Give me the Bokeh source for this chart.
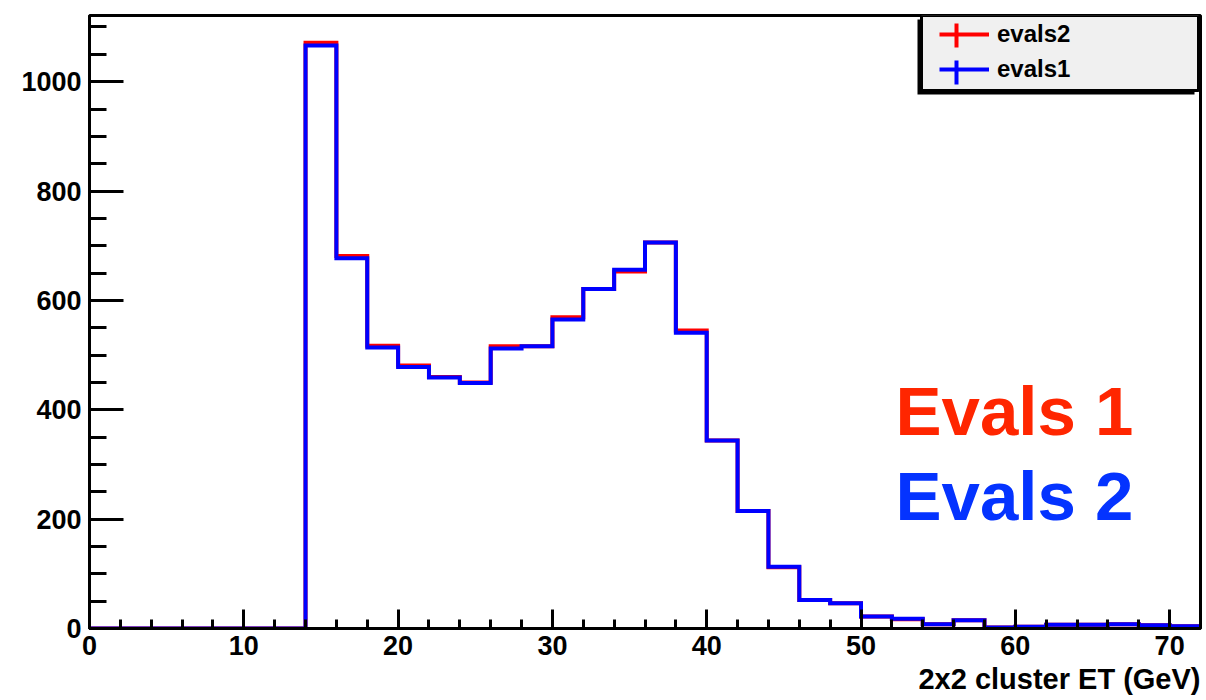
from bokeh.plotting import figure
from bokeh.models import FixedTicker, Legend, LegendItem, Label, Range1d, Title
from bokeh.embed import file_html
from bokeh.resources import INLINE

# ---------------- data ----------------
bin_edges = [0, 2, 4, 6, 8, 10, 12, 14, 16, 18, 20, 22, 24, 26, 28, 30, 32, 34, 36,
             38, 40, 42, 44, 46, 48, 50, 52, 54, 56, 58, 60, 62, 64, 66, 68, 70, 72]
evals1 = [0, 0, 0, 0, 0, 0, 0, 1066, 677, 514, 478, 459, 449, 512, 516, 565, 621, 656,
          706, 541, 344, 215, 113, 52, 46, 22, 18, 8, 15, 2, 3, 7, 7, 8, 6, 4]
evals2 = [0, 0, 0, 0, 0, 0, 0, 1071, 681, 517, 481, 460, 450, 516, 516, 569, 621, 653,
          706, 545, 344, 215, 112, 52, 46, 22, 17, 8, 15, 2, 3, 7, 7, 8, 6, 4]
series_labels = ["evals2", "evals1"]
series_colors = ["#ff0000", "#0000ff"]
x_major = [0, 10, 20, 30, 40, 50, 60, 70]
x_minor = [0, 2, 4, 6, 8, 10, 12, 14, 16, 18, 20, 22, 24, 26, 28, 30, 32, 34, 36,
           38, 40, 42, 44, 46, 48, 50, 52, 54, 56, 58, 60, 62, 64, 66, 68, 70, 72]
y_major = [0, 200, 400, 600, 800, 1000]
y_minor = [0, 50, 100, 150, 200, 250, 300, 350, 400, 450, 500, 550, 600, 650, 700,
           750, 800, 850, 900, 950, 1000, 1050, 1100]
x_title = "2x2 cluster ET (GeV)"
note1, note2 = "Evals 1", "Evals 2"

# ---------------- layout ----------------
W, H = 1202, 700
BL, BR, BT, BB = 89, 2, 15, 72
X0, X1 = 0, 72
Y0, Y1 = 0, 1121
FW = W - BL - BR
FH = H - BT - BB
FONT = "Liberation Sans"


def xd(px):
    return X0 + (px - BL) / FW * (X1 - X0)


def yd(py):
    return Y0 + (BT + FH - py) / FH * (Y1 - Y0)


p = figure(width=W, height=H, x_range=Range1d(X0, X1), y_range=Range1d(Y0, Y1),
           output_backend="svg", toolbar_location=None,
           min_border_left=BL, min_border_right=BR, min_border_top=BT, min_border_bottom=BB)
p.background_fill_color = "white"
p.border_fill_color = "white"
p.outline_line_color = "black"
p.outline_line_width = 3
p.xgrid.visible = False
p.ygrid.visible = False

for ax, tin, tmin in ((p.xaxis[0], 19, 9), (p.yaxis[0], 34, 17)):
    ax.axis_line_width = 3
    ax.major_tick_line_width = 3
    ax.minor_tick_line_width = 3
    ax.major_tick_in = tin
    ax.major_tick_out = 0
    ax.minor_tick_in = tmin
    ax.minor_tick_out = 0
    ax.major_label_text_font = FONT
    ax.major_label_text_font_style = "bold"
    ax.major_label_text_font_size = "27px"
    ax.major_label_text_color = "black"

p.xaxis.ticker = FixedTicker(ticks=x_major, minor_ticks=x_minor)
p.yaxis.ticker = FixedTicker(ticks=y_major, minor_ticks=y_minor)
p.xaxis.major_label_standoff = 7
p.yaxis.major_label_standoff = 8

# histograms
renderers = []
for vals, col in ((evals2, series_colors[0]), (evals1, series_colors[1])):
    r = p.step(x=bin_edges, y=vals + [vals[-1]], mode="after", line_color=col,
               line_width=4, line_join="miter")
    renderers.append(r)

# ROOT-style legend box with drop shadow (box drawn as glyphs, legend transparent on top)
box_l, box_r, box_t, box_b = 921, 1198, 15, 90
p.quad(left=[xd(box_l - 4)], right=[xd(box_r - 4)], top=[yd(box_t + 4)],
       bottom=[yd(box_b + 4)], fill_color="black", line_color=None)
p.quad(left=[xd(box_l)], right=[xd(box_r)], top=[yd(box_t)], bottom=[yd(box_b)],
       fill_color="#f0f0f0", line_color="black", line_width=3)

pad, spacing, gw, gh, lw, lstand = 5, 7, 50, 28, 198, 8
sym_cx = 956
sym_cy = [35, 72]
for col, cy in zip(series_colors, sym_cy):
    p.segment(x0=[xd(sym_cx)], y0=[yd(cy + 12)], x1=[xd(sym_cx)], y1=[yd(cy - 12)],
              line_color=col, line_width=4)

legend = Legend(items=[LegendItem(label=series_labels[0], renderers=[renderers[0]]),
                       LegendItem(label=series_labels[1], renderers=[renderers[1]])],
                location="top_right", margin=0, padding=pad, spacing=spacing,
                glyph_width=gw, glyph_height=gh, label_height=gh, label_width=lw,
                label_standoff=lstand, border_line_alpha=0.0,
                background_fill_alpha=0.0,
                label_text_font=FONT, label_text_font_size="24px",
                label_text_font_style="bold", label_text_color="black")
p.add_layout(legend)

# big coloured notes
p.add_layout(Label(x=xd(895), y=yd(411), text=note1, text_font=FONT,
                   text_font_size="69px", text_font_style="bold",
                   text_color="#ff2600", text_baseline="alphabetic"))
p.add_layout(Label(x=xd(895), y=yd(496), text=note2, text_font=FONT,
                   text_font_size="69px", text_font_style="bold",
                   text_color="#0433ff", text_baseline="alphabetic"))

# x-axis title, right aligned (ROOT style)
p.add_layout(Title(text=x_title, align="right", text_font=FONT, text_font_size="29px",
                   text_font_style="bold", text_color="black", standoff=7,
                   offset=0), "below")

open("out.html", "w").write(file_html(p, INLINE))
